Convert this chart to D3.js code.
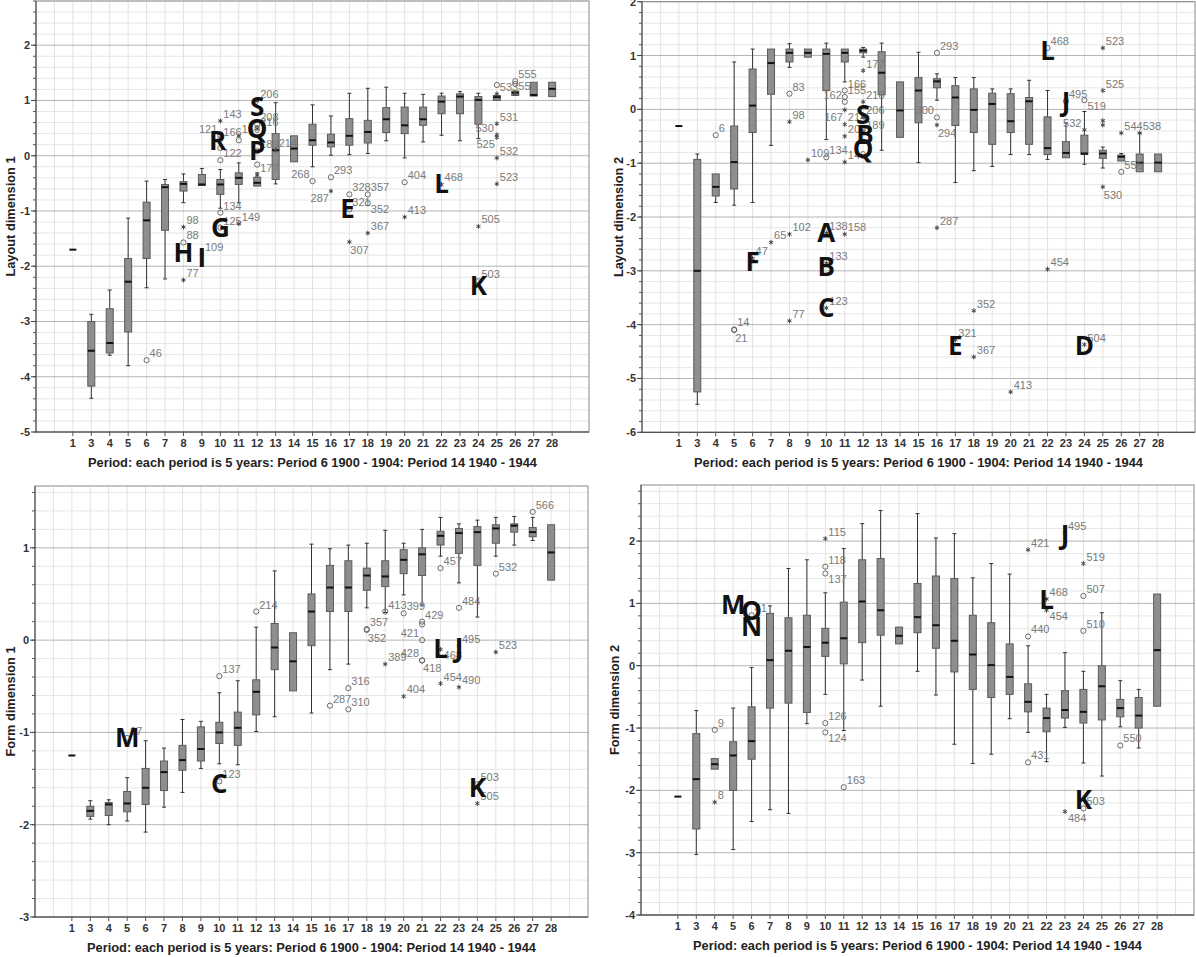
<!DOCTYPE html>
<html>
<head>
<meta charset="utf-8">
<script src="https://cdn.jsdelivr.net/npm/d3@7"></script>
<style>
  html, body { margin: 0; padding: 0; background: #fff; }
  svg { display: block; }
  .tick-lbl { font: bold 11px "Liberation Sans", Arial, sans-serif; fill: #333; }
  .ax-title { font: bold 12.8px "Liberation Sans", Arial, sans-serif; fill: #222; }
  .out-lbl { font: 11px "Liberation Sans", Arial, sans-serif; fill: #7a7a7a; }
  .tag { font: 700 26px "Open Sans", "Liberation Sans", sans-serif; fill: #111; }
</style>
</head>
<body>
<script>
/* Boxplots per period – four panels (layout / form dimensions) */

const PERIODS = [1, 3, 4, 5, 6, 7, 8, 9, 10, 11, 12, 13, 14, 15, 16, 17, 18, 19, 20, 21, 22, 23, 24, 25, 26, 27, 28];
const X_TITLE = 'Period: each period is 5 years: Period 6 1900 - 1904: Period 14 1940 - 1944';

// ---- Layout dimension 1 ----
const L1_HI  = [-1.70, -2.87, -2.43, -1.13, -0.46, -0.43, -0.33, -0.23, -0.25, -0.13, -0.31, 0.96, 0.36, 0.92, 0.72, 1.13, 1.22, 1.24, 1.13, 1.11, 1.13, 1.16, 1.13, 1.09, 1.17, 1.33, 1.33];
const L1_Q3  = [-1.70, -3.00, -2.77, -1.86, -0.84, -0.52, -0.47, -0.34, -0.43, -0.31, -0.39, 0.40, 0.36, 0.57, 0.39, 0.67, 0.64, 0.87, 0.88, 0.88, 1.08, 1.12, 1.07, 1.09, 1.17, 1.33, 1.33];
const L1_MED = [-1.70, -3.53, -3.39, -2.28, -1.17, -0.57, -0.51, -0.52, -0.52, -0.40, -0.49, 0.10, 0.13, 0.28, 0.24, 0.36, 0.43, 0.66, 0.55, 0.66, 0.98, 1.07, 1.01, 1.06, 1.14, 1.10, 1.21];
const L1_Q1  = [-1.70, -4.17, -3.57, -3.19, -1.86, -1.35, -0.64, -0.54, -0.70, -0.52, -0.55, -0.43, -0.11, 0.19, 0.16, 0.19, 0.23, 0.42, 0.40, 0.55, 0.76, 0.76, 0.57, 1.00, 1.09, 1.08, 1.07];
const L1_LO  = [-1.70, -4.39, -3.61, -3.80, -2.39, -2.23, -0.85, -0.54, -0.95, -0.85, -0.55, -0.51, -0.11, -0.20, 0.01, 0.02, 0.04, 0.27, -0.04, 0.25, 0.37, 0.27, 0.31, 1.00, 1.09, 1.08, 1.07];
const L1_OUT = [
  [6, -3.70, 'o', '46'], [8, -1.29, '*', '98'], [8, -1.57, 'o', '88'], [8, -2.25, '*', '77'],
  [9, -1.78, '*', '109'], [10, 0.63, '*', '143'], [10, 0.36, 'o', '121'], [10, 0.30, 'o', '166'],
  [10, 0.14, 'o', ''], [10, -0.08, 'o', '122'], [10, -1.03, 'o', '134'], [10, -1.30, 'o', '125'],
  [11, 0.36, '*', '160'], [11, 0.28, 'o', ''], [11, -1.23, '*', '149'],
  [12, 0.99, '*', '206'], [12, 0.57, 'o', '208'], [12, 0.49, '*', '216'], [12, 0.08, 'o', '189'],
  [12, -0.16, 'o', ''], [12, -0.35, '*', '177'], [13, 0.10, '*', '214'],
  [15, -0.46, 'o', '268'], [16, -0.39, 'o', '293'], [16, -0.64, '*', '287'],
  [17, -0.70, 'o', '328'], [17, -0.97, 'o', '321'], [17, -1.56, '*', '307'],
  [18, -0.70, 'o', '357'], [18, -0.86, 'o', '352'], [18, -1.40, '*', '367'],
  [20, -0.48, 'o', '404'], [20, -1.11, '*', '413'], [22, -0.52, '*', '468'],
  [24, -1.28, '*', '505'], [24, -2.27, 'o', '503'],
  [25, 1.28, 'o', ''], [25, 1.12, '*', '533'], [25, 0.58, '*', '531'], [25, 0.38, '*', '530'],
  [25, 0.33, '*', '525'], [25, -0.04, '*', '532'], [25, -0.51, '*', '523'],
  [26, 1.35, 'o', '555'], [26, 1.30, 'o', ''], [26, 1.13, '*', '556']
];
const L1_TAGS = [
  ['S', 12, 0.88], ['Q', 12, 0.48], ['R', 9.85, 0.26], ['P', 12, 0.08], ['G', 10, -1.31],
  ['H', 8, -1.76], ['I', 9, -1.85], ['E', 16.9, -0.96], ['L', 22, -0.51], ['K', 24, -2.36]
];

// ---- Layout dimension 2 ----
const L2_HI  = [-0.31, -0.83, -1.20, 0.88, 1.12, 1.12, 1.22, 1.12, 1.23, 1.12, 1.15, 1.23, 0.51, 1.06, 0.66, 0.59, 0.59, 0.38, 0.38, 0.54, 0.35, -0.25, -0.04, -0.70, -0.82, -0.44, -0.83];
const L2_Q3  = [-0.31, -0.93, -1.20, -0.31, 0.75, 1.12, 1.12, 1.12, 1.12, 1.12, 1.12, 1.07, 0.51, 0.59, 0.57, 0.44, 0.38, 0.30, 0.29, 0.22, -0.14, -0.60, -0.48, -0.76, -0.85, -0.83, -0.83];
const L2_MED = [-0.31, -3.00, -1.44, -0.98, 0.07, 0.86, 1.05, 1.05, 1.03, 1.05, 1.09, 0.68, -0.02, 0.35, 0.52, 0.22, -0.01, 0.10, -0.22, 0.15, -0.72, -0.81, -0.82, -0.82, -0.88, -0.99, -0.99];
const L2_Q1  = [-0.31, -5.25, -1.61, -1.48, -0.43, 0.28, 0.88, 0.97, 0.35, 0.88, 1.05, 0.27, -0.52, -0.25, 0.40, -0.30, -0.43, -0.65, -0.43, -0.65, -0.84, -0.90, -0.84, -0.91, -0.96, -1.16, -1.16];
const L2_LO  = [-0.31, -5.48, -1.73, -1.78, -1.73, -0.67, 0.78, 0.97, -0.56, 0.51, 0.97, -0.76, -0.52, -0.99, 0.17, -1.36, -1.14, -1.06, -0.84, -0.84, -0.93, -0.90, -1.02, -1.09, -0.96, -1.16, -1.16];
const L2_OUT = [
  [4, -0.48, 'o', '6'], [5, -4.09, 'o', '14'], [5, -4.10, 'o', '21'], [6, -2.77, '*', '47'],
  [7, -2.47, '*', '65'], [8, 0.29, 'o', '83'], [8, -0.23, '*', '98'], [8, -2.32, '*', '102'],
  [8, -3.93, '*', '77'], [9, -0.94, '*', '109'], [10, -0.89, 'o', '134'], [10, -2.30, '*', '138'],
  [10, -2.86, '*', '133'], [10, -3.69, '*', '123'],
  [11, 0.35, 'o', '166'], [11, 0.23, 'o', '155'], [11, 0.14, 'o', '162'], [11, -0.01, '*', '167'],
  [11, -0.28, '*', '214'], [11, -0.50, '*', '209'], [11, -0.98, '*', '149'], [11, -2.32, '*', '158'],
  [12, 0.72, '*', '177'], [12, 0.14, '*', '218'], [12, -0.14, '*', '206'], [12, -0.42, '*', '189'],
  [16, 1.05, 'o', '293'], [16, -0.15, 'o', '300'], [16, -0.29, '*', '294'], [16, -2.20, '*', '287'],
  [17, -4.28, '*', '321'], [18, -3.74, '*', '352'], [18, -4.60, '*', '367'], [20, -5.25, '*', '413'],
  [22, 1.14, 'o', '468'], [22, -2.97, '*', '454'], [23, 0.15, 'o', '495'],
  [24, 0.17, 'o', '519'], [24, -0.38, '*', '532'], [24, -4.37, '*', '504'],
  [25, 1.14, '*', '523'], [25, 0.35, '*', '525'], [25, -0.21, '*', ''], [25, -0.29, '*', ''],
  [25, -1.44, '*', '530'], [26, -0.44, '*', '544'], [26, -1.16, 'o', '556'], [27, -0.44, '*', '538']
];
const L2_TAGS = [
  ['A', 10, -2.30], ['B', 10, -2.92], ['C', 10, -3.69], ['F', 6, -2.83], ['S', 12, -0.11],
  ['B', 12.1, -0.48], ['Q', 12, -0.73], ['L', 22, 1.09], ['J', 23, 0.14], ['E', 17, -4.40], ['D', 24, -4.40]
];

// ---- Form dimension 1 ----
const F1_HI  = [-1.25, -1.74, -1.73, -1.49, -1.09, -1.17, -0.86, -0.88, -0.57, -0.44, 0.14, 0.75, 0.08, 1.04, 0.99, 1.03, 1.05, 1.19, 1.05, 1.20, 1.33, 1.26, 1.30, 1.33, 1.34, 1.33, 1.25];
const F1_Q3  = [-1.25, -1.80, -1.76, -1.64, -1.39, -1.31, -1.14, -0.94, -0.89, -0.78, -0.43, 0.18, 0.08, 0.50, 0.81, 0.86, 0.78, 0.86, 0.98, 1.00, 1.18, 1.21, 1.23, 1.25, 1.26, 1.22, 1.25];
const F1_MED = [-1.25, -1.85, -1.78, -1.77, -1.60, -1.43, -1.30, -1.18, -1.00, -0.95, -0.56, -0.08, -0.23, 0.31, 0.57, 0.57, 0.70, 0.69, 0.87, 0.93, 1.13, 1.16, 1.17, 1.21, 1.24, 1.17, 0.95];
const F1_Q1  = [-1.25, -1.91, -1.90, -1.86, -1.78, -1.63, -1.41, -1.31, -1.12, -1.14, -0.81, -0.32, -0.55, -0.06, 0.31, 0.31, 0.54, 0.58, 0.72, 0.70, 1.03, 0.94, 0.81, 1.05, 1.17, 1.12, 0.65];
const F1_LO  = [-1.25, -1.94, -2.00, -1.96, -2.08, -1.81, -1.65, -1.39, -1.34, -1.35, -0.99, -0.83, -0.55, -0.79, -0.32, -0.26, 0.35, 0.30, 0.49, 0.38, 0.91, 0.62, 0.25, 0.91, 1.03, 1.08, 0.65];
const F1_OUT = [
  [5, -1.06, 'o', '97'], [10, -0.39, 'o', '137'], [10, -1.53, 'o', '123'], [12, 0.31, 'o', '214'],
  [16, -0.71, 'o', '287'], [17, -0.52, 'o', '316'], [17, -0.75, 'o', '310'],
  [18, 0.12, 'o', '357'], [18, 0.11, 'o', '352'], [19, 0.31, 'o', '413'], [19, -0.26, '*', '389'],
  [20, 0.29, 'o', '399'], [20, -0.61, '*', '404'],
  [21, 0.20, 'o', '429'], [21, 0.17, 'o', ''], [21, 0.00, 'o', '421'], [21, -0.22, 'o', '428'], [21, -0.22, 'o', '418'],
  [22, 0.78, 'o', '457'], [22, -0.10, '*', '468'], [22, -0.47, '*', '454'],
  [23, 0.35, 'o', '484'], [23, -0.06, '*', '495'], [23, -0.51, '*', '490'],
  [24, -1.56, 'o', '503'], [24, -1.77, '*', '505'], [25, 0.72, 'o', '532'], [25, -0.13, '*', '523'],
  [27, 1.39, 'o', '566']
];
const F1_TAGS = [['M', 5, -1.06], ['C', 10, -1.56], ['L', 22, -0.10], ['J', 23, -0.08], ['K', 24, -1.60]];

// ---- Form dimension 2 ----
const F2_HI  = [-2.10, -0.72, -1.49, -0.68, -0.03, 0.96, 1.56, 1.70, 1.17, 1.88, 2.28, 2.49, 0.62, 2.44, 2.05, 2.12, 1.41, 1.64, 1.47, 0.32, -0.46, 0.21, -0.09, 0.85, -0.24, -0.38, 1.15];
const F2_Q3  = [-2.10, -1.09, -1.49, -1.22, -0.66, 0.84, 0.77, 0.81, 0.60, 1.02, 1.70, 1.72, 0.62, 1.32, 1.44, 1.40, 0.81, 0.69, 0.35, -0.29, -0.68, -0.40, -0.38, 0.00, -0.54, -0.51, 1.15];
const F2_MED = [-2.10, -1.82, -1.58, -1.44, -1.21, 0.09, 0.24, 0.30, 0.37, 0.44, 1.03, 0.89, 0.48, 0.78, 0.65, 0.40, 0.18, 0.01, -0.18, -0.58, -0.84, -0.71, -0.74, -0.33, -0.68, -0.80, 0.25];
const F2_Q1  = [-2.10, -2.62, -1.66, -2.00, -1.50, -0.68, -0.60, -0.75, 0.15, 0.03, 0.37, 0.49, 0.35, 0.53, 0.28, -0.10, -0.38, -0.51, -0.46, -0.74, -1.06, -0.84, -0.92, -0.87, -0.82, -1.00, -0.65];
const F2_LO  = [-2.10, -3.03, -1.66, -2.95, -2.50, -2.31, -2.37, -0.93, -0.46, -1.04, -0.23, -0.65, 0.35, -0.09, -0.47, -1.26, -1.57, -1.42, -0.85, -1.07, -1.54, -0.99, -1.56, -1.77, -0.98, -1.32, -0.65];
const F2_OUT = [
  [4, -1.03, 'o', '9'], [4, -2.19, '*', '8'], [6, 0.81, 'o', '41'],
  [10, 2.04, '*', '115'], [10, 1.59, 'o', '118'], [10, 1.48, 'o', '137'], [10, -0.92, 'o', '126'], [10, -1.07, 'o', '124'],
  [11, -1.95, 'o', '163'], [21, 1.86, '*', '421'], [21, 0.47, 'o', '440'], [21, -1.55, 'o', '431'],
  [22, 1.07, '*', '468'], [22, 0.89, '*', '454'], [23, 2.13, '*', '495'], [23, -2.34, '*', '484'],
  [24, 1.64, '*', '519'], [24, 1.12, 'o', '507'], [24, 0.56, 'o', '510'], [24, -2.29, 'o', '503'],
  [26, -1.28, 'o', '550']
];
const F2_TAGS = [['M', 5, 0.97], ['O', 6, 0.88], ['N', 6, 0.62], ['J', 23, 2.09], ['L', 22, 1.05], ['K', 24, -2.15]];

// where an outlier label sits when it is not to the upper right
const LABEL_SIDE = {
  'L1:121': 'l', 'L1:268': 'l', 'L1:287': 'bl', 'L1:307': 'b', 'L1:352': 'br', 'L1:530': 'l', 'L1:525': 'bl',
  'L2:21': 'b', 'L2:162': 'l', 'L2:167': 'bl', 'L2:300': 'l', 'L2:294': 'b', 'L2:530': 'b', 'L2:519': 'br', 'L2:532': 'l',
  'F1:352': 'b', 'F1:421': 'l', 'F1:428': 'l', 'F1:418': 'b', 'F1:468': 'br',
  'F2:137': 'br', 'F2:124': 'br', 'F2:454': 'br', 'F2:484': 'br'
};

const PANELS = [
  { id: 'L1', title: 'Layout dimension 1', box: [36, 589, 1, 432], dom: [-5, 2.8],
    hi: L1_HI, q3: L1_Q3, med: L1_MED, q1: L1_Q1, lo: L1_LO, out: L1_OUT, tags: L1_TAGS, titleX: 10 },
  { id: 'L2', title: 'Layout dimension 2', box: [642, 1195, 1.7, 432.3], dom: [-6, 2],
    hi: L2_HI, q3: L2_Q3, med: L2_MED, q1: L2_Q1, lo: L2_LO, out: L2_OUT, tags: L2_TAGS, titleX: 618 },
  { id: 'F1', title: 'Form dimension 1', box: [35, 588, 486, 917], dom: [-3, 1.67],
    hi: F1_HI, q3: F1_Q3, med: F1_MED, q1: F1_Q1, lo: F1_LO, out: F1_OUT, tags: F1_TAGS, titleX: 10 },
  { id: 'F2', title: 'Form dimension 2', box: [641, 1194, 485, 915], dom: [-4, 2.9],
    hi: F2_HI, q3: F2_Q3, med: F2_MED, q1: F2_Q1, lo: F2_LO, out: F2_OUT, tags: F2_TAGS, titleX: 614 }
];

const svg = d3.select('body').append('svg').attr('width', 1196).attr('height', 957);

PANELS.forEach(drawPanel);

function drawPanel(P) {
  const [L, R, T, B] = P.box;
  const x = d3.scalePoint().domain(PERIODS).range([L, R]).padding(2);
  const y = d3.scaleLinear().domain(P.dom).range([B, T]);
  const step = x.step();
  const g = svg.append('g');

  // x for fractional periods (tags)
  const xAt = p => p <= 1 ? x(1) : x(1) + (p - 2) * step;

  // gridlines
  const minor = d3.range(Math.ceil(P.dom[0] * 5), Math.floor(P.dom[1] * 5) + 1).map(k => k / 5);
  g.selectAll('.vg').data(d3.range(1, 30)).enter().append('line')
    .attr('x1', k => L + k * step).attr('x2', k => L + k * step)
    .attr('y1', T).attr('y2', B).attr('stroke', '#e2e2e2');
  g.selectAll('.mg').data(minor.filter(v => Math.abs(v - Math.round(v)) > 1e-6)).enter().append('line')
    .attr('x1', L).attr('x2', R).attr('y1', v => y(v)).attr('y2', v => y(v)).attr('stroke', '#e6e6e6');
  g.selectAll('.jg').data(d3.range(Math.ceil(P.dom[0]), Math.floor(P.dom[1]) + 1)).enter().append('line')
    .attr('x1', L).attr('x2', R).attr('y1', v => y(v)).attr('y2', v => y(v)).attr('stroke', '#b4b4b4');

  g.append('rect').attr('x', L).attr('y', T).attr('width', R - L).attr('height', B - T)
    .attr('fill', 'none').attr('stroke', '#8a8a8a');

  // boxes
  const bw = 7, cw = 4;
  const rows = PERIODS.map((p, i) => ({ p, hi: P.hi[i], q3: P.q3[i], med: P.med[i], q1: P.q1[i], lo: P.lo[i] }));
  const bg = g.selectAll('.bx').data(rows).enter().append('g');
  bg.each(function(d) {
    const s = d3.select(this);
    const cx = x(d.p);
    if (d.q3 === d.q1 && d.hi === d.lo) {
      s.append('line').attr('x1', cx - bw / 2).attr('x2', cx + bw / 2)
        .attr('y1', y(d.med)).attr('y2', y(d.med)).attr('stroke', '#111').attr('stroke-width', 2);
      return;
    }
    if (d.hi > d.q3) {
      s.append('line').attr('x1', cx).attr('x2', cx).attr('y1', y(d.hi)).attr('y2', y(d.q3)).attr('stroke', '#333');
      s.append('line').attr('x1', cx - cw / 2).attr('x2', cx + cw / 2).attr('y1', y(d.hi)).attr('y2', y(d.hi)).attr('stroke', '#333');
    }
    if (d.lo < d.q1) {
      s.append('line').attr('x1', cx).attr('x2', cx).attr('y1', y(d.q1)).attr('y2', y(d.lo)).attr('stroke', '#333');
      s.append('line').attr('x1', cx - cw / 2).attr('x2', cx + cw / 2).attr('y1', y(d.lo)).attr('y2', y(d.lo)).attr('stroke', '#333');
    }
    s.append('rect').attr('x', cx - bw / 2).attr('y', y(d.q3)).attr('width', bw)
      .attr('height', Math.max(1, y(d.q1) - y(d.q3)))
      .attr('fill', '#8e8e8e').attr('stroke', '#5a5a5a');
    s.append('line').attr('x1', cx - bw / 2).attr('x2', cx + bw / 2)
      .attr('y1', y(d.med)).attr('y2', y(d.med)).attr('stroke', '#111').attr('stroke-width', 2);
  });

  // outliers
  const star = d3.symbol(d3.symbolAsterisk, 16);
  const outs = P.out.map(o => ({ p: o[0], v: o[1], kind: o[2], label: o[3] }));
  outs.forEach(o => {
    const cx = x(o.p), cy = y(o.v);
    if (o.kind === 'o') {
      g.append('circle').attr('cx', cx).attr('cy', cy).attr('r', 2.6)
        .attr('fill', 'none').attr('stroke', '#6a6a6a');
    } else {
      g.append('path').attr('d', star()).attr('transform', `translate(${cx},${cy})`)
        .attr('stroke', '#444').attr('stroke-width', 1).attr('fill', 'none');
    }
    if (!o.label) return;
    const side = LABEL_SIDE[P.id + ':' + o.label] || 'r';
    let lx = cx + 3, ly = cy - 3, anchor = 'start';
    if (side === 'l')  { lx = cx - 3; anchor = 'end'; }
    if (side === 'b')  { lx = cx + 1; ly = cy + 12; }
    if (side === 'br') { lx = cx + 3; ly = cy + 10; }
    if (side === 'bl') { lx = cx - 2; ly = cy + 11; anchor = 'end'; }
    g.append('text').attr('class', 'out-lbl').attr('x', lx).attr('y', ly)
      .attr('text-anchor', anchor).text(o.label);
  });

  // big letter tags
  g.selectAll('.tag').data(P.tags).enter().append('text')
    .attr('class', 'tag').attr('text-anchor', 'middle')
    .attr('x', d => xAt(d[1])).attr('y', d => y(d[2]) + 9)
    .text(d => d[0]);

  // y axis
  const yAx = g.append('g');
  yAx.append('line').attr('x1', L).attr('x2', L).attr('y1', T).attr('y2', B).attr('stroke', '#444');
  yAx.selectAll('.mt').data(minor).enter().append('line')
    .attr('x1', L - 3).attr('x2', L).attr('y1', v => y(v)).attr('y2', v => y(v)).attr('stroke', '#555');
  const majors = d3.range(Math.ceil(P.dom[0]), Math.floor(P.dom[1]) + 1);
  yAx.selectAll('.jt').data(majors).enter().append('line')
    .attr('x1', L - 5).attr('x2', L).attr('y1', v => y(v)).attr('y2', v => y(v)).attr('stroke', '#444');
  yAx.selectAll('.yl').data(majors).enter().append('text')
    .attr('class', 'tick-lbl').attr('text-anchor', 'end')
    .attr('x', L - 6).attr('y', v => y(v) + 4).text(v => v);

  // x axis
  const xAx = g.append('g');
  xAx.append('line').attr('x1', L).attr('x2', R).attr('y1', B).attr('y2', B).attr('stroke', '#444');
  xAx.selectAll('.xt').data(PERIODS).enter().append('line')
    .attr('x1', p => x(p)).attr('x2', p => x(p)).attr('y1', B).attr('y2', B + 4).attr('stroke', '#555');
  xAx.selectAll('.xl').data(PERIODS).enter().append('text')
    .attr('class', 'tick-lbl').attr('text-anchor', 'middle')
    .attr('x', p => x(p)).attr('y', B + 15).text(p => p);

  // titles
  g.append('text').attr('class', 'ax-title').attr('text-anchor', 'middle')
    .attr('x', (L + R) / 2).attr('y', B + 35).text(X_TITLE);
  g.append('text').attr('class', 'ax-title').attr('text-anchor', 'middle')
    .attr('transform', `translate(${P.titleX + 5},${(T + B) / 2}) rotate(-90)`)
    .text(P.title);
}
</script>
</body>
</html>
